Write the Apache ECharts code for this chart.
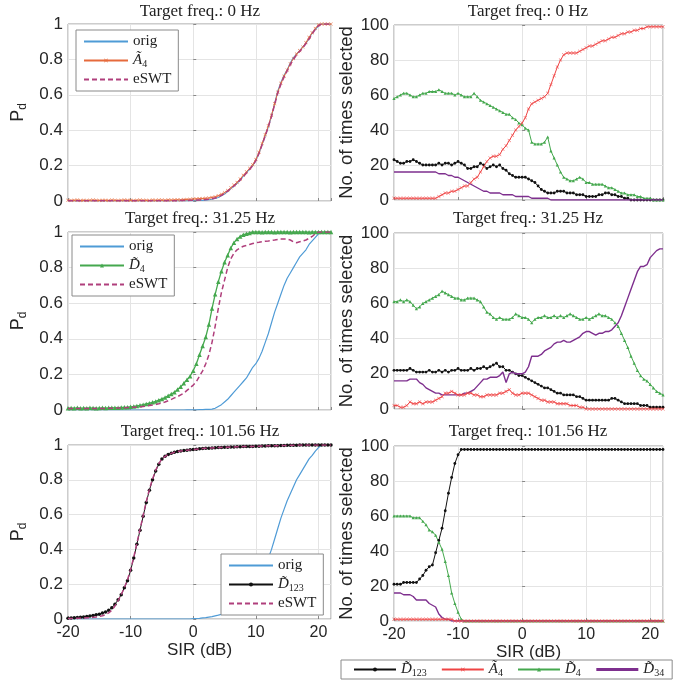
<!DOCTYPE html>
<html><head><meta charset="utf-8">
<script src="https://cdn.jsdelivr.net/npm/echarts/dist/echarts.min.js"></script>
<style>html,body{margin:0;padding:0;background:#fff}#c{width:679px;height:692px}</style>
</head><body><div id="c"></div><script>
// SIR values (dB)
const sir = [-20,-19.5,-19,-18.5,-18,-17.5,-17,-16.5,-16,-15.5,
 -15,-14.5,-14,-13.5,-13,-12.5,-12,-11.5,-11,-10.5,
 -10,-9.5,-9,-8.5,-8,-7.5,-7,-6.5,-6,-5.5,
 -5,-4.5,-4,-3.5,-3,-2.5,-2,-1.5,-1,-0.5,
 0,0.5,1,1.5,2,2.5,3,3.5,4,4.5,
 5,5.5,6,6.5,7,7.5,8,8.5,9,9.5,
 10,10.5,11,11.5,12,12.5,13,13.5,14,14.5,
 15,15.5,16,16.5,17,17.5,18,18.5,19,19.5,
 20,20.5,21,21.5,22];
const xTicks = [-20,-10,0,10,20];
const pdTicks = [0,0.2,0.4,0.6,0.8,1];
const cntTicks = [0,20,40,60,80,100];
const titles = ['Target freq.: 0 Hz','Target freq.: 31.25 Hz','Target freq.: 101.56 Hz'];

// ---- Pd, target 0 Hz
const pd0Orig = [0,0,0,0,0,0,0,0,0,0, 0,0,0,0,0,0,0,0,0,0, 0,0,0,0,0,0,0,0,0,0,
 0,0,0,0,0,0,0,0,0.001,0.001,
 0.002,0.002,0.003,0.004,0.005,0.007,0.01,0.014,0.02,0.03,
 0.04,0.055,0.07,0.085,0.10,0.12,0.14,0.16,0.18,0.20,
 0.23,0.27,0.32,0.37,0.42,0.48,0.55,0.62,0.67,0.71,
 0.74,0.78,0.81,0.83,0.85,0.87,0.89,0.92,0.95,0.97,
 0.99,1,1,1,1];
const pd0A4 = [0.004,0.003,0.004,0.005,0.003,0.004,0.003,0.004,0.005,0.004,
 0.003,0.004,0.004,0.003,0.005,0.004,0.003,0.004,0.005,0.004,
 0.004,0.003,0.004,0.005,0.004,0.004,0.003,0.005,0.004,0.005,
 0.005,0.004,0.006,0.005,0.006,0.007,0.006,0.008,0.009,0.01,
 0.011,0.012,0.013,0.014,0.015,0.017,0.02,0.024,0.03,0.038,
 0.048,0.06,0.075,0.09,0.105,0.125,0.145,0.165,0.185,0.205,
 0.235,0.275,0.325,0.375,0.425,0.485,0.55,0.615,0.665,0.705,
 0.74,0.775,0.805,0.83,0.85,0.87,0.895,0.925,0.95,0.975,
 0.995,1,1,1,1];
const pd0Eswt = [0.002,0.002,0.002,0.002,0.002,0.002,0.002,0.002,0.002,0.002,
 0.002,0.002,0.002,0.002,0.002,0.002,0.002,0.002,0.002,0.002,
 0.002,0.002,0.002,0.002,0.002,0.002,0.002,0.002,0.002,0.002,
 0.002,0.002,0.002,0.002,0.002,0.002,0.003,0.003,0.003,0.004,
 0.004,0.005,0.006,0.007,0.008,0.01,0.013,0.017,0.023,0.032,
 0.042,0.056,0.07,0.085,0.1,0.118,0.138,0.158,0.178,0.2,
 0.228,0.268,0.318,0.368,0.42,0.478,0.545,0.61,0.66,0.7,
 0.735,0.77,0.8,0.825,0.845,0.865,0.89,0.915,0.945,0.97,
 0.99,1,1,1,1];

// ---- Pd, target 31.25 Hz
const pd1Orig = [0,0,0,0,0,0,0,0,0,0, 0,0,0,0,0,0,0,0,0,0, 0,0,0,0,0,0,0,0,0,0,
 0,0,0,0,0,0,0,0,0.001,0.001,
 0.001,0.001,0.002,0.002,0.003,0.004,0.005,0.01,0.02,0.03,
 0.045,0.06,0.08,0.10,0.12,0.14,0.16,0.18,0.21,0.24,
 0.26,0.29,0.33,0.38,0.43,0.49,0.55,0.6,0.65,0.7,
 0.74,0.77,0.8,0.83,0.86,0.88,0.9,0.93,0.95,0.97,
 0.99,1,1,1,1];
const pd1D4 = [0.01,0.011,0.01,0.012,0.01,0.011,0.01,0.012,0.011,0.01,
 0.011,0.012,0.011,0.012,0.013,0.012,0.013,0.014,0.015,0.016,
 0.018,0.02,0.023,0.026,0.03,0.034,0.038,0.043,0.048,0.055,
 0.062,0.07,0.08,0.09,0.1,0.115,0.13,0.15,0.17,0.19,
 0.22,0.26,0.31,0.36,0.41,0.48,0.57,0.65,0.72,0.78,
 0.83,0.87,0.91,0.94,0.96,0.975,0.985,0.99,0.995,1,
 1,1,0.998,1,1,1,0.998,1,1,1,
 1,0.998,1,1,1,1,1,0.998,1,1,
 1,1,1,1,1];
const pd1Eswt = [0.008,0.008,0.008,0.008,0.008,0.008,0.008,0.008,0.008,0.008,
 0.008,0.009,0.009,0.01,0.01,0.011,0.011,0.012,0.013,0.014,
 0.015,0.016,0.017,0.018,0.02,0.022,0.025,0.028,0.031,0.035,
 0.04,0.045,0.052,0.06,0.068,0.075,0.085,0.095,0.11,0.125,
 0.14,0.16,0.19,0.22,0.26,0.31,0.38,0.47,0.57,0.66,
 0.73,0.8,0.85,0.88,0.9,0.91,0.92,0.925,0.93,0.935,
 0.94,0.942,0.945,0.948,0.95,0.953,0.955,0.958,0.96,0.96,
 0.96,0.955,0.945,0.94,0.945,0.95,0.955,0.965,0.975,0.99,
 1,1,1,1,1];

// ---- Pd, target 101.56 Hz
const pd2Orig = [0,0,0,0,0,0,0,0,0,0, 0,0,0,0,0,0,0,0,0,0, 0,0,0,0,0,0,0,0,0,0,
 0,0,0,0,0,0,0,0,0,0,
 0.002,0.003,0.004,0.006,0.008,0.011,0.014,0.018,0.022,0.027,
 0.033,0.04,0.05,0.06,0.07,0.085,0.1,0.12,0.14,0.165,
 0.19,0.22,0.26,0.3,0.35,0.4,0.46,0.52,0.58,0.63,
 0.68,0.72,0.76,0.8,0.83,0.86,0.89,0.92,0.94,0.965,
 0.985,1,1,1,1];
const pd2D123 = [0.005,0.006,0.007,0.008,0.01,0.012,0.014,0.017,0.02,0.024,
 0.028,0.034,0.04,0.05,0.065,0.085,0.11,0.14,0.18,0.22,
 0.28,0.35,0.43,0.51,0.59,0.67,0.74,0.80,0.85,0.89,
 0.92,0.935,0.945,0.952,0.958,0.962,0.965,0.968,0.97,0.972,
 0.974,0.976,0.978,0.98,0.981,0.982,0.983,0.984,0.985,0.986,
 0.987,0.987,0.988,0.989,0.99,0.99,0.991,0.991,0.992,0.992,
 0.993,0.993,0.994,0.994,0.995,0.995,0.996,0.996,0.997,0.997,
 0.998,0.998,0.999,0.999,1,1,1,1,1,1,
 1,1,1,1,1];
const pd2Eswt = [0.003,0.003,0.004,0.004,0.005,0.006,0.007,0.008,0.01,0.012,
 0.015,0.019,0.025,0.035,0.05,0.075,0.105,0.14,0.18,0.225,
 0.285,0.355,0.435,0.515,0.595,0.675,0.745,0.805,0.855,0.893,
 0.92,0.935,0.945,0.952,0.958,0.962,0.965,0.968,0.97,0.972,
 0.974,0.976,0.978,0.98,0.981,0.982,0.983,0.984,0.985,0.986,
 0.987,0.987,0.988,0.989,0.99,0.99,0.991,0.991,0.992,0.992,
 0.993,0.993,0.994,0.994,0.995,0.995,0.996,0.996,0.997,0.997,
 0.998,0.998,0.999,0.999,1,1,1,1,1,1,
 1,1,1,1,1];

// ---- No. of times selected, target 0 Hz
const n0D123 = [23,22,21,21,22,22,23,22,21,20,
 20,20,20,20,21,20,21,21,20,21,
 22,21,20,18,18,19,19,21,20,18,
 19,20,19,20,18,17,15,14,13,13,
 13,13,12,11,10,8,6,5,4,4,
 4,5,5,5,4,4,4,3,3,3,
 2,2,2,2,3,3,4,4,3,3,
 2,2,1,1,0,0,0,0,0,0,
 0,0,0,0,0];
const n0A4 = [1,1,1,1,1,1,1,1,1,1,
 1,1,1,1,2,3,4,4,5,5,
 6,7,8,8,10,12,13,16,19,22,
 24,25,25,26,29,31,34,37,40,42,
 44,47,52,55,56,57,58,59,61,66,
 71,76,80,83,84,84,84,84,85,86,
 87,88,88,89,90,91,91,92,93,93,
 94,95,95,96,96,97,97,98,98,99,
 99,99,99,99,99];
const n0D4 = [58,59,60,61,61,60,59,59,60,61,
 61,62,62,62,63,62,61,61,61,60,
 61,60,59,59,59,61,59,57,56,55,
 54,53,52,51,50,49,49,47,46,44,
 43,41,40,33,32,32,32,33,36,28,
 24,20,16,13,12,11,11,12,13,12,
 10,10,9,9,9,9,8,7,7,6,
 5,4,4,3,3,3,2,2,1,1,
 1,0,0,0,0];
const n0D34 = [16,16,16,16,16,16,16,16,16,16,
 16,16,16,16,15,15,15,14,14,13,
 13,12,11,10,9,8,7,6,5,5,
 4,4,4,4,3,3,3,3,2,2,
 2,2,2,1,1,1,1,1,1,0,
 0,0,0,0,0,0,0,0,0,0,
 0,0,0,0,0,0,0,0,0,0,
 0,0,0,0,0,0,0,0,0,0,
 0,0,0,0,0];

// ---- No. of times selected, target 31.25 Hz
const n1D123 = [22,22,22,22,22,23,22,21,21,21,
 21,22,21,21,22,21,22,21,22,22,
 23,22,22,22,23,22,23,23,24,23,
 24,25,26,24,24,22,22,21,20,19,
 19,18,17,16,15,14,13,12,12,11,
 10,9,9,8,8,8,8,7,7,6,
 5,5,5,5,5,5,5,5,6,6,
 5,4,3,3,3,3,3,2,2,2,
 1,1,1,1,1];
const n1A4 = [2,2,1,1,2,4,3,3,4,3,
 4,4,4,5,6,7,9,9,10,9,
 8,8,8,9,9,8,8,7,7,8,
 8,8,8,9,9,10,11,9,8,8,
 9,9,9,8,7,6,5,5,4,4,
 4,3,3,3,3,2,2,2,1,1,
 0,0,0,0,0,0,0,0,0,0,
 0,0,0,0,0,0,0,0,0,0,
 0,0,0,0,0];
const n1D4 = [61,61,62,61,62,61,59,57,58,60,
 61,62,63,64,65,67,66,65,64,63,
 63,62,62,63,63,63,62,61,58,55,
 54,52,51,52,51,51,51,52,54,53,
 52,52,51,49,51,52,52,53,52,52,
 53,52,53,52,53,54,53,52,51,51,
 52,51,52,53,54,53,53,52,51,49,
 47,43,39,35,30,26,22,19,17,16,
 14,12,10,9,8];
const n1D34 = [16,16,16,16,16,17,17,17,15,14,
 12,11,10,9,9,8,8,8,8,8,
 8,8,9,9,10,11,13,15,17,17,
 18,18,18,19,21,15,20,21,20,20,
 20,21,24,30,30,30,31,33,34,35,
 37,38,38,39,38,38,39,40,41,43,
 44,44,43,42,43,43,44,44,45,47,
 49,53,58,63,68,73,78,81,81,82,
 86,88,90,91,91];

// ---- No. of times selected, target 101.56 Hz
const n2D123 = [21,21,21,22,22,22,22,22,24,26,
 29,31,32,39,46,53,63,73,82,90,
 95,98,98,98,98,98,98,98,98,98,
 98,98,98,98,98,98,98,98,98,98,
 98,98,98,98,98,98,98,98,98,98,
 98,98,98,98,98,98,98,98,98,98,
 98,98,98,98,98,98,98,98,98,98,
 98,98,98,98,98,98,98,98,98,98,
 98,98,98,98,98];
const n2A4 = [1,1,1,1,1,1,1,1,1,1,
 1,1,1,1,1,1,1,1,1,0,
 0,0,0,0,0,0,0,0,0,0,
 0,0,0,0,0,0,0,0,0,0,
 0,0,0,0,0,0,0,0,0,0,
 0,0,0,0,0,0,0,0,0,0,
 0,0,0,0,0,0,0,0,0,0,
 0,0,0,0,0,0,0,0,0,0,
 0,0,0,0,0];
const n2D4 = [60,60,60,60,60,60,59,59,59,57,
 55,52,51,49,45,41,34,26,16,10,
 5,1,0,0,0,0,0,0,0,0,
 0,0,0,0,0,0,0,0,0,0,
 0,0,0,0,0,0,0,0,0,0,
 0,0,0,0,0,0,0,0,0,0,
 0,0,0,0,0,0,0,0,0,0,
 0,0,0,0,0,0,0,0,0,0,
 0,0,0,0,0];
const n2D34 = [16,16,16,15,15,15,14,12,12,12,
 12,10,9,8,4,2,1,1,0,0,
 0,0,0,0,0,0,0,0,0,0,
 0,0,0,0,0,0,0,0,0,0,
 0,0,0,0,0,0,0,0,0,0,
 0,0,0,0,0,0,0,0,0,0,
 0,0,0,0,0,0,0,0,0,0,
 0,0,0,0,0,0,0,0,0,0,
 0,0,0,0,0];

// ---------- styling ----------
const SANS = 'Liberation Sans, Arial, sans-serif';
const SERIF = 'Liberation Serif, Times New Roman, serif';
const C = {orig:'#4f9bd6', a4L:'#e66a3c', eswt:'#b03f7c', d4:'#45a84e', blk:'#111111', red:'#ef4444', pur:'#7e2f8e'};
const XSYM = 'path://M0,1L1,0L5,4L9,0L10,1L6,5L10,9L9,10L5,6L1,10L0,9L4,5Z';

const grids = [
  {left:68, top:24, width:263, height:177},
  {left:394, top:25, width:269, height:175},
  {left:68, top:232, width:263, height:178},
  {left:394, top:233, width:269, height:176},
  {left:68, top:445, width:263, height:174},
  {left:394, top:446, width:269, height:175}
].map(g => Object.assign(g, {show:true, borderColor:'#9a9a9a', borderWidth:1, backgroundColor:'#fff'}));

const xAxes = grids.map((g, i) => ({
  type:'value', gridIndex:i, min:xTicks[0], max:22, interval:10,
  axisLine:{show:false},
  axisTick:{show:true, inside:true, length:3, lineStyle:{color:'#888'}},
  splitLine:{show:true, lineStyle:{color:'#e4e4e4', width:1}},
  axisLabel:{show: i >= 4, showMaxLabel:false, color:'#262626', fontFamily:SANS, fontSize:16, margin:6},
  name: i >= 4 ? 'SIR (dB)' : '', nameLocation:'middle', nameGap:21,
  nameTextStyle:{color:'#262626', fontFamily:SANS, fontSize:17}
}));
const yAxes = grids.map((g, i) => {
  const left = i % 2 === 0;
  const t = left ? pdTicks : cntTicks;
  return {
    type:'value', gridIndex:i, min:t[0], max:t[t.length-1], interval:t[1]-t[0],
    axisLine:{show:false},
    axisTick:{show:true, inside:true, length:3, lineStyle:{color:'#888'}},
    splitLine:{show:true, lineStyle:{color:'#e4e4e4', width:1}},
    axisLabel:{color:'#262626', fontFamily:SANS, fontSize:17, margin:5},
    name: left ? '{p|P}{d|d}' : 'No. of times selected',
    nameLocation:'middle', nameGap: left ? 39 : 28, nameRotate:90,
    nameTextStyle: left ? {color:'#262626', fontFamily:SANS, fontSize:17,
      rich:{p:{fontSize:18, fontFamily:SANS, color:'#262626', lineHeight:22},
            d:{fontSize:12, fontFamily:SANS, color:'#262626', lineHeight:12, verticalAlign:'bottom'}}}
      : {color:'#262626', fontFamily:SANS, fontSize:18.5}
  };
});

function pairs(arr){ return sir.map((x, i) => [x, arr[i]]); }
function line(name, arr, gi, color, o){
  o = o || {};
  return {
    type:'line', name, xAxisIndex:gi, yAxisIndex:gi, data:pairs(arr),
    symbol: o.symbol || 'none', symbolSize: o.size || 4, showSymbol: !!o.symbol,
    lineStyle:{color, width: o.width || 1, type: o.dash ? [5,3] : 'solid'},
    itemStyle:{color},
    animation:false, silent:true, z: o.z || 2
  };
}

const series = [
  line('orig0', pd0Orig, 0, C.orig, {width:1.2}),
  line('A4L', pd0A4, 0, C.a4L, {symbol:XSYM, size:3.5, z:3}),
  line('eswt0', pd0Eswt, 0, C.eswt, {dash:true, width:1.5, z:4}),
  line('orig1', pd1Orig, 2, C.orig, {width:1.2}),
  line('D4L', pd1D4, 2, C.d4, {symbol:'triangle', size:4.5, width:1.3, z:3}),
  line('eswt1', pd1Eswt, 2, C.eswt, {dash:true, width:1.5, z:4}),
  line('orig2', pd2Orig, 4, C.orig, {width:1.2}),
  line('D123L', pd2D123, 4, C.blk, {symbol:'circle', size:3.5, z:3}),
  line('eswt2', pd2Eswt, 4, C.eswt, {dash:true, width:1.5, z:4})
];
[[n0D123,n0A4,n0D4,n0D34],[n1D123,n1A4,n1D4,n1D34],[n2D123,n2A4,n2D4,n2D34]].forEach((s, k) => {
  const gi = 2*k + 1;
  series.push(line('D123R', s[0], gi, C.blk, {symbol:'circle', size:2.8, z:3}));
  series.push(line('A4R', s[1], gi, C.red, {symbol:XSYM, size:3.5, z:5}));
  series.push(line('D4R', s[2], gi, C.d4, {symbol:'triangle', size:3.2, z:3}));
  series.push(line('D34R', s[3], gi, C.pur, {width:1.4, z:4}));
});

const labelMap = {
  orig0:'orig', orig1:'orig', orig2:'orig', eswt0:'eSWT', eswt1:'eSWT', eswt2:'eSWT',
  A4L:'{i|Ã}{s|4}', A4R:'{i|Ã}{s|4}', D4L:'{i|D\u0303}{s|4}', D4R:'{i|D\u0303}{s|4}',
  D123L:'{i|D\u0303}{s|123}', D123R:'{i|D\u0303}{s|123}', D34R:'{i|D\u0303}{s|34}'
};
const legText = {
  color:'#222', fontFamily:SERIF, fontSize:15, lineHeight:17,
  rich:{i:{fontFamily:SERIF, fontStyle:'italic', fontSize:15, color:'#222', lineHeight:17},
        s:{fontFamily:SERIF, fontSize:10, color:'#222', lineHeight:11, verticalAlign:'bottom'}}
};
const noSym = {opacity:0};
function boxLegend(names, pos){
  return Object.assign({
    data:names, orient:'vertical', itemWidth:44, itemHeight:5, itemGap:2,
    padding:[3,7,3,7], borderColor:'#8a8a8a', borderWidth:1, backgroundColor:'#fff',
    formatter: n => labelMap[n], textStyle:legText, selectedMode:false, z:10
  }, pos);
}
const legends = [
  boxLegend([{name:'orig0', itemStyle:noSym},'A4L',{name:'eswt0', itemStyle:noSym}], {left:76, top:30}),
  boxLegend([{name:'orig1', itemStyle:noSym},'D4L',{name:'eswt1', itemStyle:noSym}], {left:72, top:235}),
  boxLegend([{name:'orig2', itemStyle:noSym},'D123L',{name:'eswt2', itemStyle:noSym}], {left:221, top:554}),
  Object.assign(boxLegend(['D123R','A4R','D4R',{name:'D34R', itemStyle:noSym, lineStyle:{width:3}}], {left:341, top:660}),
    {orient:'horizontal', itemGap:14, itemWidth:42, padding:[1,8,1,12]})
];

const titleGraphics = [];
titles.forEach((t, r) => {
  const ys = [12, 219, 432][r];
  [200, 528].forEach(cx => titleGraphics.push({
    type:'text', x:cx, y:ys, silent:true,
    style:{text:t, fill:'#222', font:'17px "Liberation Serif", serif',
      align:'center', verticalAlign:'middle', textAlign:'center', textVerticalAlign:'middle'}
  }));
});

const chart = echarts.init(document.getElementById('c'), null, {renderer:'canvas'});
chart.setOption({
  backgroundColor:'#fff', animation:false,
  grid:grids, xAxis:xAxes, yAxis:yAxes, series, legend:legends, graphic:titleGraphics
});
</script></body></html>
